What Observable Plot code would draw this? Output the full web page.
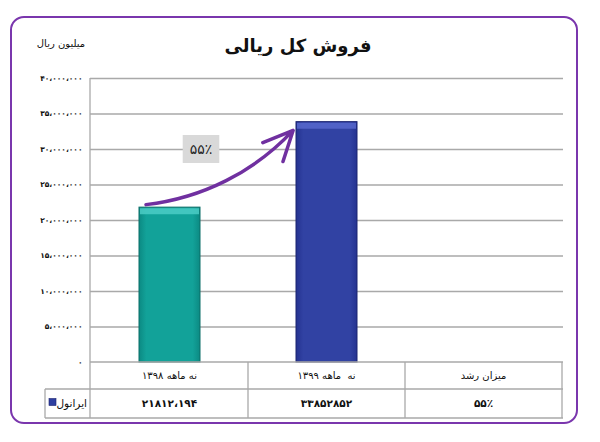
<!DOCTYPE html>
<html><head><meta charset="utf-8">
<script src="https://cdn.jsdelivr.net/npm/d3@7"></script>
<script src="https://cdn.jsdelivr.net/npm/@observablehq/plot@0.6"></script>
<style>
body{margin:0;background:#fff;}
#wrap{width:600px;height:442px;}
svg{font-family:"DejaVu Sans",sans-serif;}
</style></head><body><div id="wrap"></div>
<script>
// ---- data ----
const title = "فروش کل ریالی";
const unitLabel = "میلیون ریال";
const seriesName = "ایرانول";
const categories = ["نه ماهه ۱۳۹۸", "نه  ماهه ۱۳۹۹", "میزان رشد"];
const values = [21812194, 33852852];
const tableLabels = ["۲۱۸۱۲،۱۹۴", "۳۳۸۵۲۸۵۲", "۵۵٪"];
const growthLabel = "۵۵٪";
const yTicks = [0, 5000000, 10000000, 15000000, 20000000, 25000000, 30000000, 35000000, 40000000];
const yTickLabels = ["۰", "۵،۰۰۰،۰۰۰", "۱۰،۰۰۰،۰۰۰", "۱۵،۰۰۰،۰۰۰", "۲۰،۰۰۰،۰۰۰", "۲۵،۰۰۰،۰۰۰", "۳۰،۰۰۰،۰۰۰", "۳۵،۰۰۰،۰۰۰", "۴۰،۰۰۰،۰۰۰"];

// ---- build ----
const barRows = values.map((v, i) => ({category: categories[i], value: v}));
const tickMap = new Map(yTicks.map((t, i) => [t, yTickLabels[i]]));
const gradIds = ["gTeal", "gBlue"];
const bevel = ["#4fd0c8", "#5a6ad0"];
const outline = ["#0b6e68", "#1b2470"];
const arrowRow = [{x1: categories[0], y1: values[0], x2: categories[1], y2: values[1]}];
const labelRow = [{x: categories[0], y: 30000000, text: growthLabel}];

const plot = Plot.plot({
  width: 600, height: 442,
  marginLeft: 90, marginRight: 37, marginTop: 78, marginBottom: 80,
  style: {fontFamily: "DejaVu Sans, sans-serif", background: "transparent", overflow: "visible"},
  x: {domain: categories, padding: 0, axis: null},
  y: {domain: [0, 40000000], axis: null},
  marks: [
    Plot.ruleY(yTicks.slice(1), {stroke: "#a9a9a9", strokeWidth: 1.3}),
    Plot.axisY({ticks: yTicks, tickFormat: d => tickMap.get(d), tickSize: 0, tickPadding: 8,
      fontWeight: "bold", fontSize: 7.5, fill: "#111"}),
    ...barRows.map((d, i) => Plot.barY([d], {x: "category", y: "value", insetLeft: 48, insetRight: 48,
      fill: `url(#${gradIds[i]})`, stroke: outline[i], strokeWidth: 1})),
    ...barRows.map((d, i) => Plot.tickY([d], {x: "category", y: "value", dy: 3.5, insetLeft: 49, insetRight: 49,
      stroke: bevel[i], strokeWidth: 6, strokeOpacity: 0.8})),
    Plot.arrow(arrowRow, {x1: "x1", y1: "y1", x2: "x2", y2: "y2", dx: -24, dy: -3,
      bend: -22, insetEnd: 15, stroke: "#7030a0", strokeWidth: 3.5, headLength: 14, headAngle: 50}),
    Plot.text(labelRow, {x: "x", y: "y", text: "text", dx: 31, fontSize: 14, fill: "#222", className: "growth"})
  ]
});

document.getElementById("wrap").appendChild(plot);
const svg = d3.select(plot);

// gradients for bar shading
const defs = svg.insert("defs", ":first-child");
function grad(id, edge, mid) {
  const g = defs.append("linearGradient").attr("id", id).attr("x1", "0").attr("x2", "1").attr("y1", "0").attr("y2", "0");
  g.append("stop").attr("offset", "0").attr("stop-color", edge);
  g.append("stop").attr("offset", "0.12").attr("stop-color", mid);
  g.append("stop").attr("offset", "0.88").attr("stop-color", mid);
  g.append("stop").attr("offset", "1").attr("stop-color", edge);
}
grad("gTeal", "#0c8a83", "#12a299");
grad("gBlue", "#243290", "#3142a3");

// gray box behind growth label
const gt = plot.querySelector(".growth text");
if (gt) {
  const b = gt.getBBox();
  const r = d3.select(gt.parentNode).insert("rect", ":first-child")
    .attr("x", b.x - 7).attr("y", b.y - 6).attr("width", b.width + 14).attr("height", b.height + 12)
    .attr("fill", "#d9d9d9");
  const tr = gt.getAttribute("transform");
  if (tr) r.attr("transform", tr);
}

// table under the plot, using Plot's x and y scales
const xs = plot.scale("x");
const ys = plot.scale("y");
const bw = xs.bandwidth;
const left = xs.range[0], right = xs.range[1];
const y0 = ys.apply(0);
const r1 = y0 + 27, r2 = r1 + 29;
const legLeft = 45;
const tg = svg.append("g").attr("stroke", "#a9a9a9").attr("stroke-width", 1.3);
tg.append("line").attr("x1", left).attr("x2", right).attr("y1", y0).attr("y2", y0);
tg.append("line").attr("x1", legLeft).attr("x2", right).attr("y1", r1).attr("y2", r1);
tg.append("line").attr("x1", legLeft).attr("x2", right).attr("y1", r2).attr("y2", r2);
tg.append("line").attr("x1", left).attr("x2", left).attr("y1", ys.apply(40000000)).attr("y2", r2);
tg.append("line").attr("x1", legLeft).attr("x2", legLeft).attr("y1", r1).attr("y2", r2);
categories.forEach(c => {
  const xe = xs.apply(c) + bw;
  tg.append("line").attr("x1", xe).attr("x2", xe).attr("y1", y0).attr("y2", r2);
});
const txt = svg.append("g").attr("text-anchor", "middle").attr("fill", "#111");
categories.forEach((c, i) => {
  const xc = xs.apply(c) + bw / 2;
  txt.append("text").attr("x", xc).attr("y", (y0 + r1) / 2).attr("dy", "0.35em").attr("font-size", 10).text(c);
  txt.append("text").attr("x", xc).attr("y", (r1 + r2) / 2).attr("dy", "0.35em").attr("font-size", 10.5)
    .attr("font-weight", "bold").text(tableLabels[i]);
});
// legend cell
svg.append("rect").attr("x", 49).attr("y", (r1 + r2) / 2 - 5).attr("width", 7).attr("height", 7)
  .attr("fill", "#2f3fa0").attr("stroke", "#1b2470").attr("stroke-width", 0.6);
svg.append("text").attr("x", 87).attr("y", (r1 + r2) / 2).attr("dy", "0.35em").attr("text-anchor", "end")
  .attr("font-size", 10.5).attr("fill", "#111").text(seriesName);

// title and unit
svg.append("text").attr("x", 298).attr("y", 46).attr("dy", "0.35em").attr("text-anchor", "middle")
  .attr("font-size", 18).attr("font-weight", "bold").attr("fill", "#111").text(title);
svg.append("text").attr("x", 61).attr("y", 43).attr("dy", "0.35em").attr("text-anchor", "middle")
  .attr("font-size", 10).attr("fill", "#111").text(unitLabel);

// outer rounded frame
svg.append("rect").attr("x", 11).attr("y", 17).attr("width", 566).attr("height", 406).attr("rx", 13)
  .attr("fill", "none").attr("stroke", "#7a36ad").attr("stroke-width", 2);
</script></body></html>
